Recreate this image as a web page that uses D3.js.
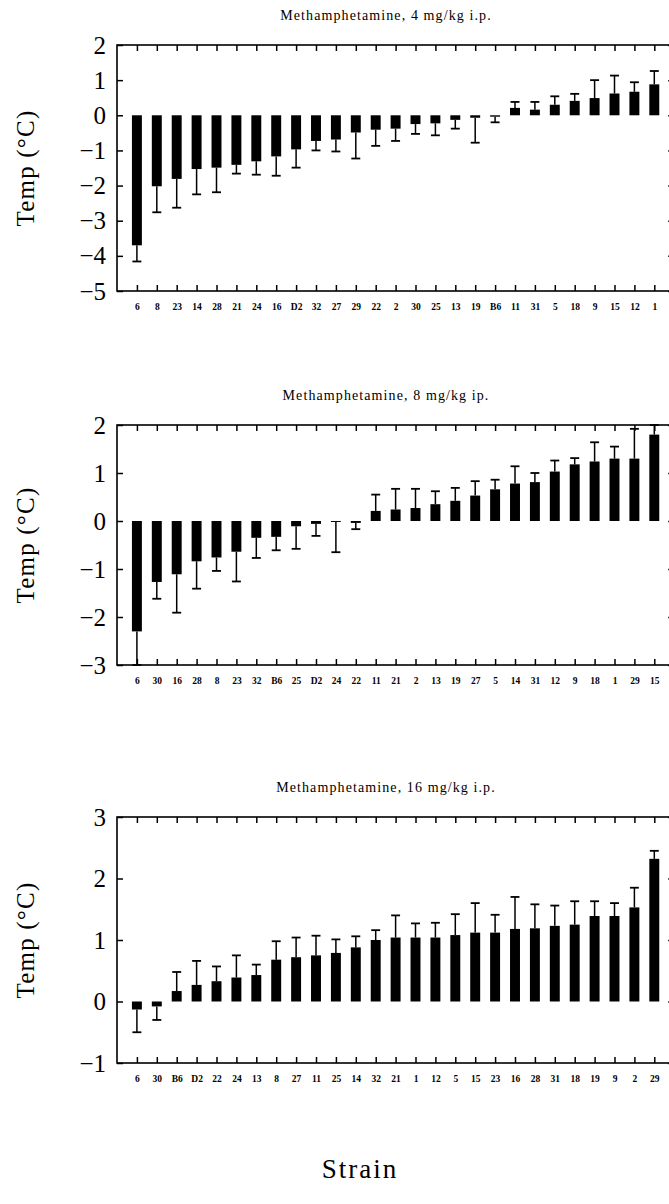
<!DOCTYPE html>
<html>
<head>
<meta charset="utf-8">
<script src="https://cdnjs.cloudflare.com/ajax/libs/d3/7.8.5/d3.min.js"></script>
<style>
  html, body { margin: 0; padding: 0; background: #fff; }
  svg { display: block; }
  text { font-family: "Liberation Serif", "DejaVu Serif", serif; fill: #000; }
</style>
</head>
<body>
<svg id="chart" width="669" height="1204"></svg>
<script>
// Change in body temperature after methamphetamine, by mouse strain (mean, SEM)

// 4 mg/kg
const strains4 = ["6","8","23","14","28","21","24","16","D2","32","27","29","22","2","30","25","13","19","B6","11","31","5","18","9","15","12","1"];
const temp4 = [-3.70,-2.02,-1.81,-1.53,-1.49,-1.41,-1.31,-1.17,-0.97,-0.73,-0.69,-0.49,-0.41,-0.38,-0.25,-0.23,-0.13,-0.07,-0.04,0.21,0.16,0.30,0.41,0.49,0.62,0.67,0.88];
const sem4  = [0.46,0.74,0.82,0.72,0.70,0.25,0.38,0.55,0.52,0.27,0.34,0.74,0.46,0.35,0.28,0.34,0.25,0.71,0.16,0.17,0.22,0.24,0.20,0.51,0.51,0.27,0.38];
const yTicks4 = [2,1,0,-1,-2,-3,-4,-5];

// 8 mg/kg
const strains8 = ["6","30","16","28","8","23","32","B6","25","D2","24","22","11","21","2","13","19","27","5","14","31","12","9","18","1","29","15"];
const temp8 = [-2.30,-1.27,-1.11,-0.84,-0.76,-0.64,-0.35,-0.33,-0.11,-0.06,-0.02,-0.04,0.21,0.24,0.27,0.35,0.42,0.53,0.66,0.78,0.81,1.03,1.18,1.24,1.30,1.30,1.80];
const sem8  = [0.70,0.35,0.80,0.57,0.28,0.62,0.42,0.28,0.47,0.25,0.63,0.13,0.34,0.43,0.40,0.27,0.27,0.30,0.20,0.36,0.19,0.23,0.13,0.40,0.25,0.62,0.20];
const yTicks8 = [2,1,0,-1,-2,-3];

// 16 mg/kg
const strains16 = ["6","30","B6","D2","22","24","13","8","27","11","25","14","32","21","1","12","5","15","23","16","28","31","18","19","9","2","29"];
const temp16 = [-0.13,-0.08,0.17,0.27,0.33,0.39,0.43,0.68,0.72,0.75,0.79,0.88,1.00,1.04,1.04,1.04,1.08,1.12,1.12,1.18,1.19,1.23,1.25,1.39,1.39,1.53,2.32];
const sem16  = [0.37,0.22,0.31,0.39,0.24,0.36,0.17,0.30,0.32,0.32,0.22,0.18,0.16,0.36,0.23,0.24,0.34,0.48,0.29,0.52,0.39,0.33,0.38,0.24,0.21,0.32,0.13];
const yTicks16 = [3,2,1,0,-1];

const titles = ["Methamphetamine, 4 mg/kg i.p.", "Methamphetamine, 8 mg/kg ip.", "Methamphetamine, 16 mg/kg i.p."];

const panels = [
  { title: titles[0], strains: strains4,  temp: temp4,  sem: sem4,  ticks: yTicks4,  top: 45,  bottom: 291 },
  { title: titles[1], strains: strains8,  temp: temp8,  sem: sem8,  ticks: yTicks8,  top: 425, bottom: 665 },
  { title: titles[2], strains: strains16, temp: temp16, sem: sem16, ticks: yTicks16, top: 817, bottom: 1063 }
];

const svg = d3.select("#chart");
const left = 117, step = 19.9, right = left + 28 * step;

panels.forEach(p => {
  const g = svg.append("g");

  const x = d3.scalePoint().domain(p.strains).range([left, right]).padding(1);
  const y = d3.scaleLinear().domain(d3.extent(p.ticks)).range([p.bottom, p.top]);
  const barW = step * 0.5, capW = step * 0.45;

  // frame
  g.append("rect")
    .attr("x", left).attr("y", p.top)
    .attr("width", right - left).attr("height", p.bottom - p.top)
    .attr("fill", "none").attr("stroke", "#000").attr("stroke-width", 1.6);

  // inward ticks on all four sides
  const ax = [
    d3.axisLeft(y).tickValues(p.ticks).tickSize(-6).tickSizeOuter(0).tickPadding(11).tickFormat(d => d < 0 ? "\u2212" + Math.abs(d) : d),
    d3.axisRight(y).tickValues(p.ticks).tickSize(-6).tickSizeOuter(0).tickFormat(""),
    d3.axisTop(x).tickSize(-6).tickSizeOuter(0).tickFormat(""),
    d3.axisBottom(x).tickSize(-6).tickSizeOuter(0).tickPadding(12)
  ];
  const yl = g.append("g").attr("transform", `translate(${left},0)`).call(ax[0]);
  const yr = g.append("g").attr("transform", `translate(${right},0)`).call(ax[1]);
  const xt = g.append("g").attr("transform", `translate(0,${p.top})`).call(ax[2]);
  const xb = g.append("g").attr("transform", `translate(0,${p.bottom})`).call(ax[3]);
  [yl, yr, xt, xb].forEach(a => {
    a.select(".domain").remove();
    a.selectAll(".tick line").attr("stroke", "#000").attr("stroke-width", 1.5);
  });
  yl.selectAll(".tick text")
    .attr("font-size", 25).attr("font-family", "Liberation Serif, serif");
  xb.selectAll(".tick text")
    .attr("font-size", 9.5).attr("font-weight", "bold").attr("font-family", "Liberation Serif, serif");

  // error bars drawn away from zero
  const data = p.strains.map((s, i) => ({ s, v: p.temp[i], e: p.sem[i] }));
  g.selectAll(".err").data(data).join("line")
    .attr("x1", d => x(d.s)).attr("x2", d => x(d.s))
    .attr("y1", d => y(d.v))
    .attr("y2", d => y(d.v >= 0 ? d.v + d.e : d.v - d.e))
    .attr("stroke", "#000").attr("stroke-width", 1.5);
  g.selectAll(".cap").data(data).join("line")
    .attr("x1", d => x(d.s) - capW / 2).attr("x2", d => x(d.s) + capW / 2)
    .attr("y1", d => y(d.v >= 0 ? d.v + d.e : d.v - d.e))
    .attr("y2", d => y(d.v >= 0 ? d.v + d.e : d.v - d.e))
    .attr("stroke", "#000").attr("stroke-width", 1.8);

  // bars
  g.selectAll(".bar").data(data).join("rect")
    .attr("x", d => x(d.s) - barW / 2)
    .attr("width", barW)
    .attr("y", d => Math.min(y(0), y(d.v)))
    .attr("height", d => Math.abs(y(d.v) - y(0)))
    .attr("fill", "#000");

  // panel title
  g.append("text")
    .attr("x", 386).attr("y", p.top - 25)
    .attr("text-anchor", "middle").attr("font-size", 14).attr("letter-spacing", 1.1)
    .text(p.title);

  // y-axis title
  g.append("text")
    .attr("transform", `translate(34,${(p.top + p.bottom) / 2}) rotate(-90)`)
    .attr("text-anchor", "middle").attr("font-size", 25).attr("letter-spacing", 1.2)
    .text("Temp (\u00B0C)");
});

svg.append("text")
  .attr("x", 360).attr("y", 1178)
  .attr("text-anchor", "middle").attr("font-size", 27).attr("letter-spacing", 2)
  .text("Strain");
</script>
</body>
</html>
